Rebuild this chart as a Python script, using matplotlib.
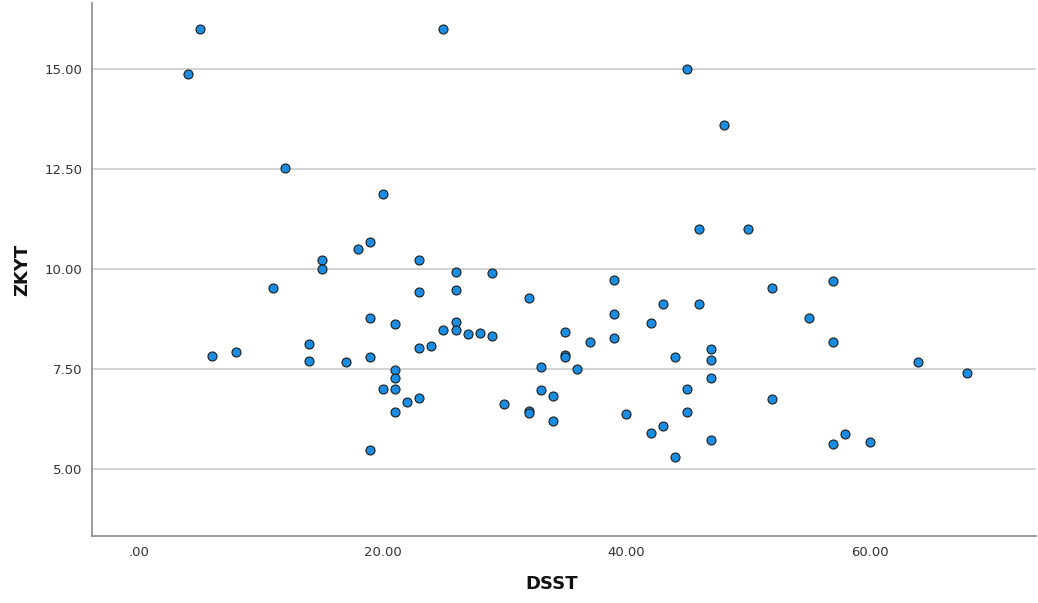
import numpy as np
from matplotlib import pyplot as plt
import matplotlib.ticker as ticker

# DSST / ZKYT values
dsst = [4, 5, 6, 8, 11, 12, 14, 14, 15, 15,
        17, 18, 19, 19, 19, 19, 20, 20, 21, 21,
        21, 21, 21, 22, 23, 23, 23, 23, 24, 25,
        25, 26, 26, 26, 26, 27, 28, 29, 29, 30,
        32, 32, 32, 33, 33, 34, 34, 35, 35, 35,
        36, 37, 39, 39, 39, 40, 42, 42, 43, 43,
        44, 44, 45, 45, 45, 46, 46, 47, 47, 47,
        47, 48, 50, 52, 52, 55, 57, 57, 57, 58,
        60, 64, 68]
zkyt = [14.88, 16.0, 7.83, 7.93, 9.54, 12.52, 8.13, 7.71, 10.24, 10.0,
        7.68, 10.5, 10.68, 8.78, 7.81, 5.47, 11.89, 7.01, 8.64, 7.48,
        7.27, 7.0, 6.43, 6.68, 10.22, 9.42, 8.03, 6.78, 8.07, 8.48,
        16.0, 9.94, 9.49, 8.67, 8.48, 8.39, 8.41, 8.34, 9.91, 6.62,
        9.27, 6.45, 6.40, 7.55, 6.98, 6.82, 6.21, 8.42, 7.86, 7.80,
        7.50, 8.17, 9.72, 8.88, 8.28, 6.38, 8.65, 5.90, 9.13, 6.08,
        7.81, 5.31, 15.0, 7.0, 6.43, 11.0, 9.13, 8.0, 7.72, 7.29,
        5.74, 13.6, 11.0, 9.54, 6.75, 8.78, 9.71, 8.19, 5.62, 5.87,
        5.69, 7.68, 7.41]

xticks = [0, 20, 40, 60]
yticks = [5.0, 7.5, 10.0, 12.5, 15.0]


def spss_fmt(v, pos):
    # SPSS drops the leading zero: .00
    s = f'{v:.2f}'
    return s[1:] if s.startswith('0') else s


fig = plt.figure(figsize=(10.38, 6.03), dpi=100)
ax = fig.add_axes([0.0886, 0.111, 0.9095, 0.884])

ax.scatter(dsst, zkyt, s=42, color='#1a8de0', edgecolors='#1c1c1c',
           linewidths=0.8, zorder=3)

ax.set_xlim(-3.86, 73.65)
ax.set_ylim(3.33, 16.65)
ax.set_xticks(xticks)
ax.set_yticks(yticks)
ax.xaxis.set_major_formatter(ticker.FuncFormatter(spss_fmt))
ax.yaxis.set_major_formatter(ticker.FuncFormatter(spss_fmt))

# horizontal grid lines only
ax.grid(axis='y', color='#d2d2d2', linewidth=1.4, zorder=0)
ax.grid(axis='x', visible=False)
ax.set_axisbelow(True)

for side in ['top', 'right']:
    ax.spines[side].set_visible(False)
for side in ['left', 'bottom']:
    ax.spines[side].set_color('#8a8a8a')
    ax.spines[side].set_linewidth(1.2)

ax.tick_params(axis='both', length=0, labelsize=9.5, colors='#333333')
ax.tick_params(axis='x', pad=7)
ax.tick_params(axis='y', pad=7)

ax.set_xlabel('DSST', fontsize=13, fontweight='bold', color='#111111')
ax.set_ylabel('ZKYT', fontsize=13, fontweight='bold', color='#111111')
ax.xaxis.set_label_coords((552 - 92) / 944, -0.073)
ax.yaxis.set_label_coords(-0.064, 0.5)

fig.savefig('out.png', dpi=100, facecolor='white')
